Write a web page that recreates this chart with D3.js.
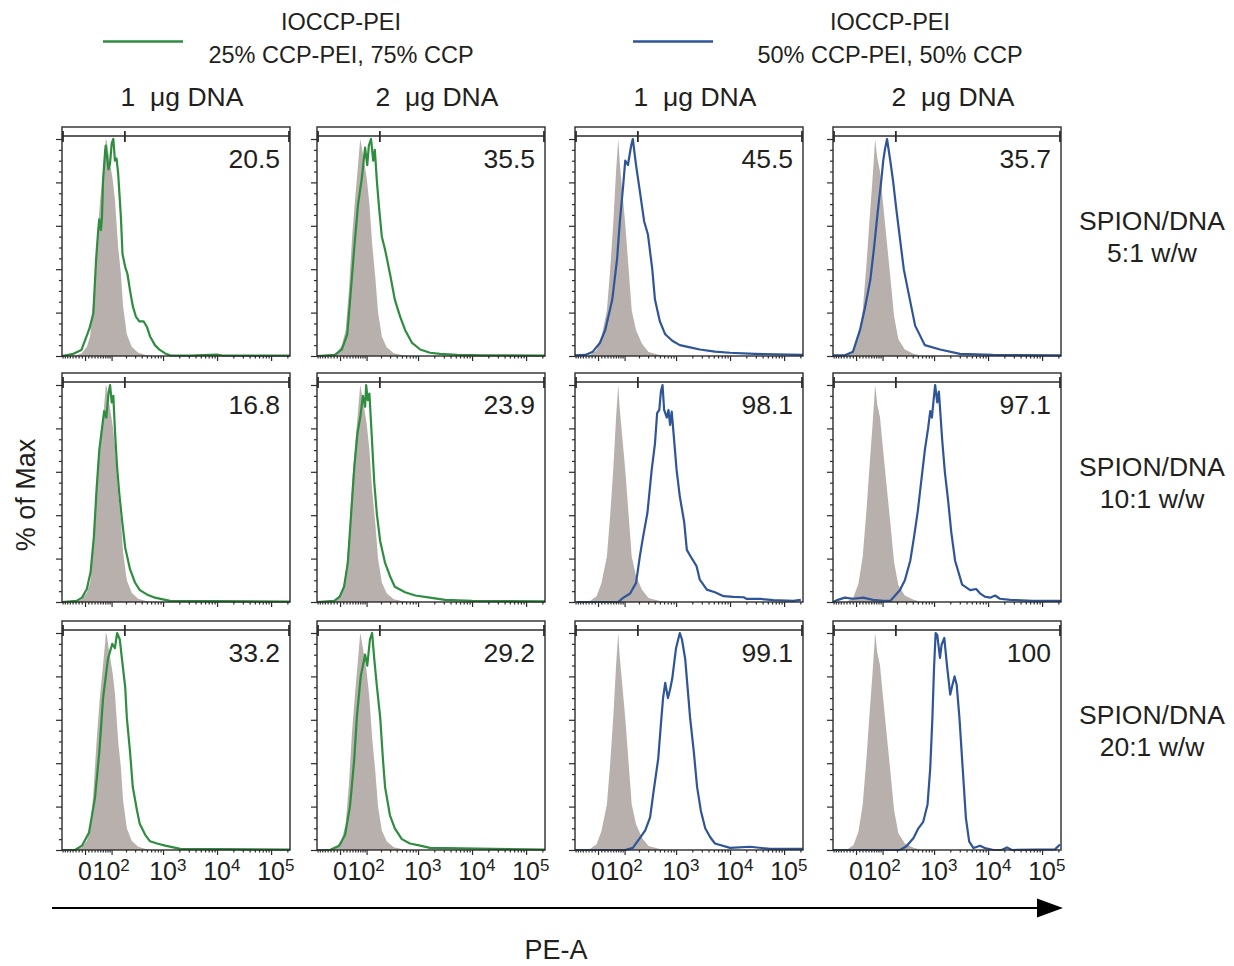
<!DOCTYPE html>
<html><head><meta charset="utf-8">
<script src="https://cdn.jsdelivr.net/npm/d3@7"></script>
<style>
body{margin:0;background:#fff}
text{font-family:"Liberation Sans",Arial,sans-serif;fill:#231f20}
</style>
</head><body>
<svg id="c" width="1234" height="966"></svg>
<script>
// ---------------- data ----------------
const legendTitles = ["IOCCP-PEI", "IOCCP-PEI"];
const legendSubs = ["25% CCP-PEI, 75% CCP", "50% CCP-PEI, 50% CCP"];
const colLabels = ["1  μg DNA", "2  μg DNA", "1  μg DNA", "2  μg DNA"];
const rowTitle = "SPION/DNA";
const rowLabels = ["5:1 w/w", "10:1 w/w", "20:1 w/w"];
const gatePct = [[20.5, 35.5, 45.5, 35.7], [16.8, 23.9, 98.1, 97.1], [33.2, 29.2, 99.1, 100]];
const xTickValues = [0, 100, 1000, 10000, 100000];
const xTickBase = ["0", "10", "10", "10", "10"];
const xTickExp = ["", "2", "3", "4", "5"];
const yTickValues = [0, 20, 40, 60, 80, 100];
const gateSplit = 190;       // PE-A value of the middle gate tick
const yLabel = "% of Max", xLabel = "PE-A";

// histograms: [display decade, % of max]
const ctrlCol1 = [[1.13,0],[1.40,0.3],[1.49,1.2],[1.59,4.3],[1.65,9],[1.71,26],[1.77,50],[1.83,70],[1.88,83],[1.93,96],[1.94,100],[1.96,99],[1.99,93.5],[2.02,89],[2.07,81],[2.11,72],[2.17,50],[2.22,38],[2.26,23],[2.33,10],[2.42,4.3],[2.54,1.5],[2.70,0.3],[2.82,0],[5.35,0]];
const ctrlCol2 = [[1.13,0],[1.42,0.3],[1.50,1.5],[1.59,5],[1.66,12],[1.72,30],[1.78,55],[1.84,74],[1.89,88],[1.93,100],[1.96,96],[2.00,90],[2.05,82],[2.10,70],[2.15,52],[2.21,36],[2.26,20],[2.33,9],[2.42,4],[2.55,1.3],[2.72,0.3],[2.85,0],[5.35,0]];
const ctrlCol3 = [[1.13,0],[1.38,0],[1.53,2.7],[1.62,8.8],[1.72,21],[1.78,39.4],[1.84,62],[1.89,85],[1.93,100],[1.96,88.5],[2.01,74.7],[2.06,61],[2.12,41],[2.18,21],[2.26,11.9],[2.37,5.7],[2.49,1.8],[2.70,0.5],[2.83,0],[5.35,0]];
const ctrlCol4 = [[1.13,0],[1.38,0],[1.51,2.3],[1.60,8.4],[1.68,21],[1.75,42.5],[1.81,64],[1.86,81],[1.91,100],[1.95,91],[2.00,85],[2.05,72],[2.11,56.7],[2.19,36.8],[2.26,18.4],[2.34,7.7],[2.46,3],[2.62,1],[2.77,0],[5.35,0]];

const r1c1 = [[1.13,0],[1.34,1],[1.49,2.8],[1.56,7.4],[1.64,12.8],[1.71,19.7],[1.76,44],[1.80,58],[1.82,63],[1.85,58],[1.87,64],[1.89,81],[1.93,95],[1.94,97],[1.99,86],[2.02,89],[2.05,98],[2.08,100],[2.11,90],[2.14,91],[2.17,84],[2.22,64],[2.25,47],[2.30,41],[2.34,38],[2.39,30],[2.44,23],[2.50,18],[2.56,16],[2.64,16],[2.70,13.5],[2.76,9],[2.85,5],[2.94,2.8],[3.04,1.2],[3.13,0.3],[3.5,0.2],[4.0,0.6],[4.1,0.2],[5.35,0.2]];
const r1c2 = [[1.13,0],[1.46,0.5],[1.59,3],[1.69,10],[1.74,25],[1.82,50],[1.89,70],[1.96,82],[2.02,96],[2.06,88],[2.09,97],[2.13,100],[2.17,90],[2.20,95],[2.24,80],[2.28,68],[2.33,55],[2.39,49],[2.48,38],[2.57,26],[2.67,18],[2.76,12],[2.89,6],[3.04,3],[3.22,1.5],[3.41,1],[3.72,0.5],[4.2,0.3],[5.35,0.2]];
const r1c3 = [[1.13,0.3],[1.32,0.5],[1.46,2],[1.59,6],[1.69,12],[1.82,26],[1.91,45],[1.96,62],[2.02,78],[2.06,90],[2.11,88],[2.17,97],[2.20,100],[2.26,88],[2.33,76],[2.41,62],[2.48,56],[2.56,40],[2.61,26],[2.70,16],[2.80,10],[2.93,7],[3.07,5],[3.26,4],[3.44,3],[3.72,2],[4.00,1.5],[4.46,1],[5.35,0.5]];
const r1c4 = [[1.13,0.3],[1.35,0.3],[1.50,2],[1.63,12],[1.72,22],[1.82,35],[1.89,50],[1.96,67],[2.02,80],[2.06,90],[2.09,95],[2.13,100],[2.19,90],[2.24,81],[2.30,68],[2.37,54],[2.44,40],[2.52,30],[2.65,14],[2.83,5],[3.11,3],[3.48,1],[4.09,0.5],[5.35,0.3]];
const r2c1 = [[1.13,0],[1.40,0.5],[1.50,2],[1.59,6],[1.66,14],[1.72,30],[1.77,52],[1.82,70],[1.87,80],[1.91,88],[1.95,85],[1.99,96],[2.02,100],[2.05,92],[2.08,95],[2.11,79],[2.15,62],[2.19,50],[2.24,38],[2.30,25],[2.39,15],[2.48,9],[2.57,5.5],[2.70,3.5],[2.85,2],[3.04,1],[3.13,0.5],[5.35,0.2]];
const r2c2 = [[1.13,0],[1.45,0.5],[1.55,2.5],[1.63,7],[1.70,18],[1.76,40],[1.82,62],[1.88,78],[1.93,85],[1.98,95],[2.02,90],[2.04,100],[2.07,93],[2.10,96],[2.14,78],[2.19,55],[2.24,40],[2.30,28],[2.39,18],[2.48,12],[2.57,7],[2.76,4.5],[2.95,3],[3.22,2],[3.5,1],[4.0,0.5],[5.35,0.3]];
const r2c3 = [[1.16,0],[1.93,0],[2.02,1.9],[2.15,3.9],[2.26,8.8],[2.33,21],[2.39,30],[2.47,41],[2.55,61],[2.61,73],[2.65,87],[2.69,88.5],[2.72,97],[2.75,100],[2.78,88.5],[2.83,85],[2.86,88.5],[2.89,81.6],[2.92,87.7],[2.95,79],[3.01,61],[3.07,48.6],[3.15,37],[3.20,24],[3.27,21],[3.38,16.5],[3.44,10.3],[3.57,5.7],[3.72,4.5],[3.88,2.7],[4.06,2.4],[4.25,2.2],[4.31,1.4],[4.56,1.4],[4.80,0.9],[5.17,0.5],[5.31,1]];
const r2c4 = [[1.13,0],[1.22,1],[1.35,2],[1.50,1.5],[1.69,2],[1.87,1],[2.06,0.5],[2.19,0.5],[2.37,5.5],[2.46,10],[2.56,19],[2.63,30],[2.70,42],[2.76,55],[2.83,70],[2.89,80],[2.93,88],[2.96,85],[3.02,100],[3.06,92],[3.09,97],[3.15,75],[3.20,60],[3.26,47],[3.32,32],[3.39,19],[3.52,8],[3.67,5.5],[3.78,6],[3.85,4],[3.94,2.5],[4.04,2],[4.13,3],[4.22,1.5],[4.41,1],[4.83,0.5],[5.35,0.5]];
const r3c1 = [[1.13,0],[1.37,0],[1.50,2],[1.63,8],[1.74,24],[1.82,45],[1.89,70],[1.98,88],[2.06,95],[2.11,93],[2.15,100],[2.20,97],[2.24,88],[2.30,75],[2.33,61],[2.39,45],[2.44,29],[2.52,18],[2.57,12],[2.67,7],[2.76,4],[2.89,3],[3.04,2],[3.32,0.5],[5.35,0.2]];
const r3c2 = [[1.13,0],[1.37,0],[1.54,2],[1.65,7],[1.74,20],[1.82,42],[1.87,62],[1.94,80],[2.02,90],[2.06,85],[2.11,97],[2.15,100],[2.19,88],[2.24,75],[2.30,61],[2.35,42],[2.39,29],[2.48,16],[2.57,10],[2.70,5],[2.85,3],[3.04,2],[3.22,1],[5.35,0.2]];
const r3c3 = [[1.13,0],[2.06,0],[2.20,1],[2.33,5.5],[2.43,9],[2.52,15],[2.59,28],[2.67,42],[2.72,58],[2.76,70],[2.80,77],[2.85,70],[2.89,74],[2.93,79],[3.00,93],[3.04,97],[3.07,100],[3.11,97],[3.17,88],[3.26,61],[3.33,45],[3.39,29],[3.46,18],[3.54,10],[3.63,6],[3.72,3],[4.00,1],[4.37,1.5],[4.74,0.5],[5.35,0.5]];
const r3c4 = [[1.13,0],[2.37,0],[2.49,1.7],[2.62,5.5],[2.71,10],[2.80,13],[2.88,21],[2.93,37.8],[2.97,61],[3.00,84],[3.03,100],[3.06,99],[3.11,88.5],[3.14,94.6],[3.19,97.7],[3.24,85],[3.30,71.6],[3.34,76],[3.38,80],[3.42,76],[3.47,61],[3.53,37.8],[3.59,14.7],[3.65,4],[3.73,0.9],[3.85,2],[3.94,0.9],[4.10,0],[4.25,0],[4.35,1.2],[4.44,0],[5.24,0.3],[5.33,2.5]];

const controls = [ctrlCol1, ctrlCol2, ctrlCol3, ctrlCol4];
const samples = [[r1c1, r1c2, r1c3, r1c4], [r2c1, r2c2, r2c3, r2c4], [r3c1, r3c2, r3c3, r3c4]];
const seriesColors = ["#2e8d3e", "#2e8d3e", "#2f5599", "#2f5599"];
const legendColors = ["#2e8d3e", "#2f5599"];
const ctrlFill = "#b8b0ad";

// ---------------- layout ----------------
const svg = d3.select("#c");
const W = 228, H = 229;
const panelLeft = [62, 317, 575, 833];
const panelTop = [127, 373, 621];
const ink = "#2b2b2b";

// logicle-like display transform (arcsinh), PE-A -> display decades
const wLin = 36;
const T = v => Math.log10(wLin) + Math.asinh(v / (2 * wLin)) / Math.LN10;

const x = d3.scaleLinear().domain([1.13, 5.35]).range([0, W]);
const y = d3.scaleLinear().domain([0, 100]).range([H, 12]);

const minorX = [];
for (let v = -80; v <= 90; v += 10) if (v !== 0) minorX.push(v);
[100, 1000, 10000].forEach(d => { for (let k = 2; k <= 9; k++) minorX.push(k * d); });
minorX.push(200000);

const area = d3.area().x(d => x(d[0])).y0(H).y1(d => y(d[1]));
const line = d3.line().x(d => x(d[0])).y(d => y(d[1]));

// legend
legendColors.forEach((c, i) => {
  const lx = [103, 633][i], tx = [341, 890][i];
  svg.append("line").attr("x1", lx).attr("x2", lx + 80).attr("y1", 41.5).attr("y2", 41.5)
    .attr("stroke", c).attr("stroke-width", 2.5);
  svg.append("text").attr("x", tx).attr("y", 30).attr("text-anchor", "middle")
    .attr("font-size", 23.5).text(legendTitles[i]);
  svg.append("text").attr("x", tx).attr("y", 63).attr("text-anchor", "middle")
    .attr("font-size", 23.5).text(legendSubs[i]);
});

// column labels
colLabels.forEach((t, j) => {
  svg.append("text").attr("x", panelLeft[j] + W / 2 + 6).attr("y", 106)
    .attr("text-anchor", "middle").attr("font-size", 26.5).attr("xml:space", "preserve")
    .style("white-space", "pre").text(t);
});

// row labels
rowLabels.forEach((t, i) => {
  const cy = panelTop[i] + H / 2;
  svg.append("text").attr("x", 1152).attr("y", cy - 12).attr("text-anchor", "middle")
    .attr("font-size", 26.5).text(rowTitle);
  svg.append("text").attr("x", 1152).attr("y", cy + 20).attr("text-anchor", "middle")
    .attr("font-size", 26.5).text(t);
});

// panels
panelTop.forEach((top, i) => {
  panelLeft.forEach((left, j) => {
    const g = svg.append("g").attr("transform", `translate(${left},${top})`);
    g.append("path").datum(controls[j]).attr("d", area).attr("fill", ctrlFill);
    g.append("path").datum(samples[i][j]).attr("d", line).attr("fill", "none")
      .attr("stroke", seriesColors[j]).attr("stroke-width", 2.2).attr("stroke-linejoin", "round");
    g.append("rect").attr("x", 0).attr("y", 0).attr("width", W).attr("height", H)
      .attr("fill", "none").attr("stroke", ink).attr("stroke-width", 1.4);

    // y ticks
    const yMaj = g.append("g").call(d3.axisLeft(y).tickValues(yTickValues).tickSize(6).tickFormat(""));
    const yMin = g.append("g").call(d3.axisLeft(y).tickValues(d3.range(5, 100, 5).filter(v => v % 20)).tickSize(3).tickFormat(""));
    // x ticks
    const xMaj = g.append("g").attr("transform", `translate(0,${H})`)
      .call(d3.axisBottom(x).tickValues(xTickValues.map(T)).tickSize(5).tickFormat(""));
    const xMin = g.append("g").attr("transform", `translate(0,${H})`)
      .call(d3.axisBottom(x).tickValues(minorX.map(T).filter(u => u > 1.14 && u < 5.34)).tickSize(2.5).tickFormat(""));
    [yMaj, yMin, xMaj, xMin].forEach(a => {
      a.select(".domain").remove();
      a.selectAll("line").attr("stroke", ink).attr("stroke-width", 1.2);
    });

    // gate marker
    const gy = 9, gx1 = 0, gx2 = W - 1, gm = x(T(gateSplit));
    g.append("line").attr("x1", gx1).attr("x2", gx2).attr("y1", gy).attr("y2", gy)
      .attr("stroke", ink).attr("stroke-width", 1.4);
    [gx1 + 1, gm, gx2].forEach(px => g.append("line").attr("x1", px).attr("x2", px)
      .attr("y1", gy - 5).attr("y2", gy + 6).attr("stroke", ink).attr("stroke-width", 1.8));

    // percentage
    g.append("text").attr("x", 218).attr("y", 41).attr("text-anchor", "end")
      .attr("font-size", 26.5).text(String(gatePct[i][j]));

    // x tick labels on bottom row: the "10" base is centred on its tick;
    // the crowded 10² label is packed right after the "0" label
    if (i === panelTop.length - 1) {
      let prevEnd = -Infinity;
      xTickValues.forEach((v, k) => {
        const t = g.append("text").attr("y", H + 30).attr("font-size", 25);
        const base = t.append("tspan").text(xTickBase[k]);
        if (xTickExp[k]) t.append("tspan").attr("dy", -9).attr("font-size", 17).text(xTickExp[k]);
        const bw = base.node().getComputedTextLength();
        let x0 = x(T(v)) - bw / 2;
        if (k === 1) x0 = Math.min(x0, prevEnd + 0.5);
        t.attr("x", x0);
        prevEnd = x0 + t.node().getComputedTextLength();
      });
    }
  });
});

// y axis title
svg.append("text").attr("transform", "translate(35,495) rotate(-90)")
  .attr("text-anchor", "middle").attr("font-size", 27).text(yLabel);

// arrow
svg.append("line").attr("x1", 52).attr("x2", 1045).attr("y1", 908).attr("y2", 908)
  .attr("stroke", "#000").attr("stroke-width", 2.2);
svg.append("path").attr("d", d3.line()([[1037, 898.5], [1063, 908], [1037, 917.5]]) + "Z").attr("fill", "#000");
svg.append("text").attr("x", 556).attr("y", 959).attr("text-anchor", "middle")
  .attr("font-size", 27).text(xLabel);
</script>
</body></html>
